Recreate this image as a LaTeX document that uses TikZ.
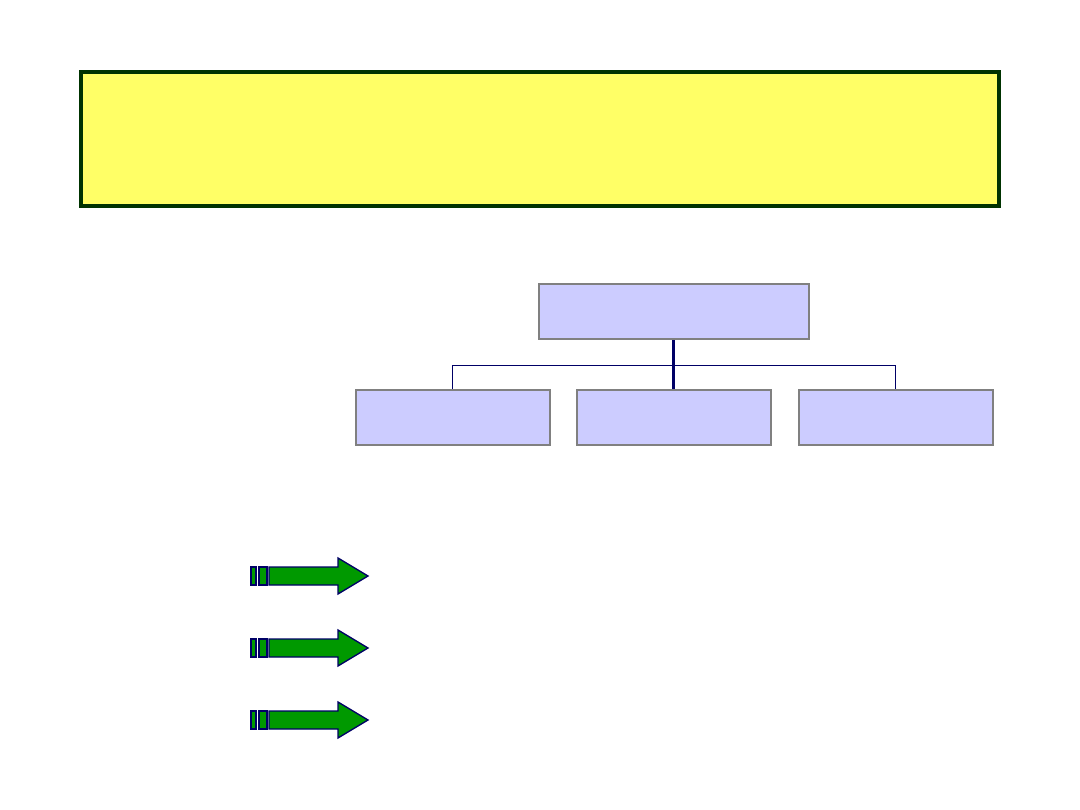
\documentclass[tikz,border=0pt]{standalone}
\usetikzlibrary{calc}
\definecolor{ylw}{HTML}{FFFF66}
\definecolor{dgreen}{HTML}{003300}
\definecolor{lav}{HTML}{CCCCFF}
\definecolor{navy}{HTML}{000066}
\definecolor{agreen}{HTML}{009900}
\definecolor{bgray}{HTML}{808080}
\tikzset{
  orgbox/.style={draw=bgray, line width=2pt, fill=lav, minimum height=55pt, inner sep=0pt},
  link/.style={draw=navy, line width=1.7pt},
  arrshape/.style={draw=navy, line width=1.3pt, fill=agreen, line join=miter}
}
\begin{document}
\begin{tikzpicture}[x=1pt,y=-1pt]
\useasboundingbox (0,0) rectangle (1080,810);
\node[draw=dgreen, line width=3.5pt, fill=ylw, minimum width=918pt, minimum height=134pt, inner sep=0pt] (title) at (540,139) {};
\node[orgbox, minimum width=270pt] (top) at (673.5,312) {};
\node[orgbox, minimum width=194pt] (b1) at (452.5,417.5) {};
\node[orgbox, minimum width=194pt] (b2) at (673.5,417.5) {};
\node[orgbox, minimum width=194pt] (b3) at (895.5,417.5) {};
\coordinate (hub) at ($(top.south)+(0,25)$);
\draw[link, line width=2.7pt] (top.south) -- (b2.north);
\draw[link] (hub) -| (b1.north);
\draw[link] (hub) -| (b3.north);
\foreach \i/\yy in {1/576,2/648,3/720}{
  \path[arrshape] (251,\yy-9) rectangle (256,\yy+9);
  \path[arrshape] (259,\yy-9) rectangle (267,\yy+9);
  \path[arrshape] (269,\yy-9) -- (338,\yy-9) -- (338,\yy-18) -- (368,\yy) -- (338,\yy+18) -- (338,\yy+9) -- (269,\yy+9) -- cycle;
}
\end{tikzpicture}
\end{document}
